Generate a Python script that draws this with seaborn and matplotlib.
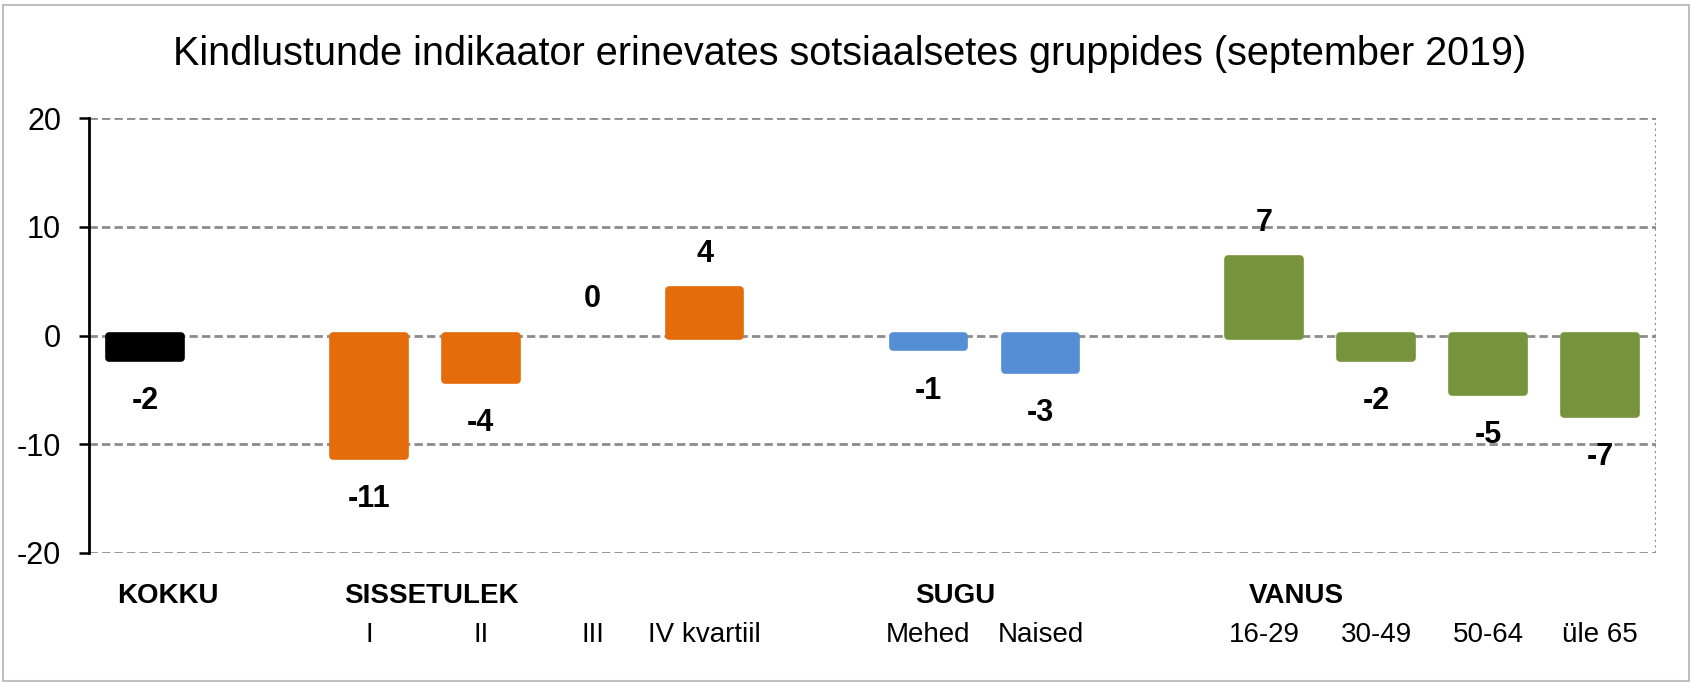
import matplotlib

matplotlib.use("Agg")
import matplotlib.pyplot as plt
import matplotlib.transforms as mtransforms
import pandas as pd
import seaborn as sns
from matplotlib.patches import Rectangle

# andmed (loetud jooniselt)
groups = ["KOKKU", "SISSETULEK", "SUGU", "VANUS"]
kokku_labels = [""]
kokku_values = [-2.1]
sissetulek_labels = ["I", "II", "III", "IV kvartiil"]
sissetulek_values = [-11.1, -4.1, 0.0, 4.2]
sugu_labels = ["Mehed", "Naised"]
sugu_values = [-1.1, -3.2]
vanus_labels = ["16-29", "30-49", "50-64", "üle 65"]
vanus_values = [7.0, -2.1, -5.2, -7.2]

colors = {
    "KOKKU": "#000000",
    "SISSETULEK": "#E46C0A",
    "SUGU": "#558ED5",
    "VANUS": "#77933C",
}

# grupi nime nihe esimese tulba keskkohast (kategooria-ühikutes)
group_label_shift = {"KOKKU": -0.25, "SISSETULEK": -0.22, "SUGU": -0.12, "VANUS": -0.14}

TITLE = "Kindlustunde indikaator erinevates sotsiaalsetes gruppides (september 2019)"
FONT = ["Liberation Sans Narrow", "Liberation Sans", "DejaVu Sans"]


def build_frame() -> pd.DataFrame:
    parts = [
        ("KOKKU", kokku_labels, kokku_values),
        ("SISSETULEK", sissetulek_labels, sissetulek_values),
        ("SUGU", sugu_labels, sugu_values),
        ("VANUS", vanus_labels, vanus_values),
    ]
    rows = []
    pos = 0
    for group, labels, values in parts:
        for lab, val in zip(labels, values):
            rows.append({"group": group, "label": lab, "value": val, "pos": pos})
            pos += 1
        pos += 1  # tühi koht gruppide vahel
    return pd.DataFrame(rows)


def main() -> None:
    df = build_frame()

    sns.set_style("white")
    plt.rcParams["font.family"] = FONT
    plt.rcParams["text.color"] = "black"
    plt.rcParams["xtick.color"] = "black"
    plt.rcParams["ytick.color"] = "black"
    plt.rcParams["axes.labelcolor"] = "black"

    fig = plt.figure(figsize=(16.92, 6.82), dpi=100)
    left, right, top, bottom = 89, 1656, 118, 553
    ax = fig.add_axes([left / 1692, 1 - bottom / 682, (right - left) / 1692, (bottom - top) / 682])

    sns.barplot(
        data=df, x="pos", y="value", hue="group", palette=colors,
        native_scale=True, dodge=False, width=0.64, legend=False, ax=ax,
        saturation=1, zorder=3,
    )

    for p in ax.patches:
        if abs(p.get_height()) < 1e-9:
            p.set_visible(False)
            continue
        p.set_edgecolor(p.get_facecolor())
        p.set_linewidth(5.5)
        p.set_joinstyle("round")

    for _, r in df.iterrows():
        off = 26 if r["value"] >= 0 else -31
        ax.annotate(
            f"{r['value']:.0f}", (r["pos"], r["value"]), xytext=(0, off),
            textcoords="offset points", ha="center", va="center",
            fontsize=22, fontweight="bold", zorder=5,
        )

    ax.set_xlim(-0.5, df["pos"].max() + 0.5)
    ax.set_ylim(-20, 20)
    ax.set_yticks([-20, -10, 0, 10, 20])
    ax.set_yticklabels(["-20", "-10", "0", "10", "20"], fontsize=22)
    ax.set_xticks(df["pos"])
    ax.set_xticklabels(df["label"], fontsize=20)
    ax.tick_params(axis="x", length=0, pad=50)
    ax.tick_params(axis="y", length=7, width=1.8, direction="out", pad=13, left=True)
    ax.set_xlabel("")
    ax.set_ylabel("")

    ax.yaxis.grid(True, color="#8c8c8c", linestyle=(0, (3, 1.5)), linewidth=2, zorder=0)
    ax.xaxis.grid(False)
    for side in ["top", "right", "bottom"]:
        ax.spines[side].set_visible(False)
    ax.spines["left"].set_color("black")
    ax.spines["left"].set_linewidth(2)
    ax.spines["left"].set_zorder(4)
    ax.axvline(ax.get_xlim()[1], color="#8c8c8c", linestyle=(0, (1, 1.5)), linewidth=1.6, zorder=1)

    # grupi nimed
    trans = mtransforms.blended_transform_factory(ax.transData, ax.transAxes)
    for g in groups:
        first = df.loc[df["group"] == g, "pos"].min()
        ax.text(first + group_label_shift[g], -0.098, g, transform=trans, ha="left",
                va="center", fontsize=20, fontweight="bold")

    fig.text(0.502, 1 - 54 / 682, TITLE, ha="center", va="center", fontsize=28.5)
    fig.patches.append(Rectangle((0.002, 0.002), 0.996, 0.99, transform=fig.transFigure,
                                 fill=False, edgecolor="#bfbfbf", linewidth=1.5))

    fig.savefig("out.png", dpi=100)
    plt.close(fig)


if __name__ == "__main__":
    main()
